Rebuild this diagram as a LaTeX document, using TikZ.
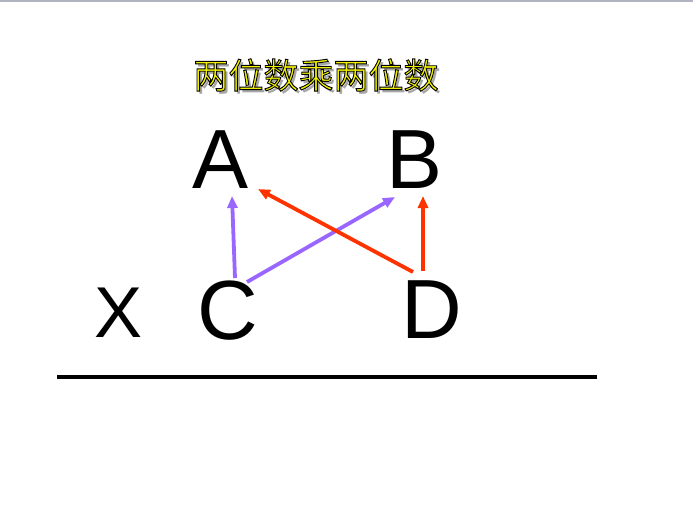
\documentclass[tikz,border=0pt]{standalone}
\usepackage{fontspec}
\setmainfont{Liberation Sans}
\newfontfamily\cjk{Noto Sans CJK SC}
\usetikzlibrary{arrows.meta}
\definecolor{purp}{HTML}{9966FF}
\definecolor{redo}{HTML}{FF3300}
\definecolor{titley}{HTML}{F0F000}
\newcommand{\outlinetext}[1]{\special{pdf:code q 0 0 0 RG 0.9 w 2 Tr}#1\special{pdf:code Q}}
\begin{document}
\begin{tikzpicture}[x=1pt,y=-1pt,
  letter/.style={inner sep=0pt,anchor=base,font=\fontsize{84}{84}\selectfont},
  ttl/.style={inner sep=0pt,font=\cjk\fontsize{35}{35}\selectfont},
  conn/.style={line width=3.8pt,-{Triangle[length=12pt,width=10pt]}}]
\useasboundingbox (0,0) rectangle (693,522);
\fill[white] (0,0) rectangle (693,522);
\draw[line width=1.5pt,color={rgb,255:red,176;green,180;blue,192}] (0,0.75) -- (693,0.75);
% title
\node[ttl,text=gray!70] (S) at (319,78) {两位数乘两位数};
\node[ttl,text=titley] (T) at (316,75) {\outlinetext{两位数乘两位数}};
% letters
\node[letter] (A) at (221,188) {A};
\node[letter] (B) at (415,188) {B};
\node[letter] (C) at (228,339) {C};
\node[letter] (D) at (432,338) {D};
\node[inner sep=0pt,anchor=base,font=\fontsize{72}{72}\selectfont] (X) at (119,337) {X};
% arrows
\draw[conn,purp] ([xshift=7pt,yshift=61pt]C.base) -- ([xshift=11pt,yshift=-8pt]A.base);
\draw[conn,purp] ([xshift=19pt,yshift=57pt]C.base) -- ([xshift=-20pt,yshift=-9pt]B.base);
\draw[conn,redo] ([xshift=-19pt,yshift=66pt]D.base) -- ([xshift=37pt,yshift=-1pt]A.base);
\draw[conn,redo] ([xshift=-9pt,yshift=67pt]D.base) -- ([xshift=8pt,yshift=-8pt]B.base);
% rule
\coordinate (L) at (57,377);
\coordinate (R) at (597,377);
\draw[line width=4pt] (L) -- (R);
\end{tikzpicture}
\end{document}
